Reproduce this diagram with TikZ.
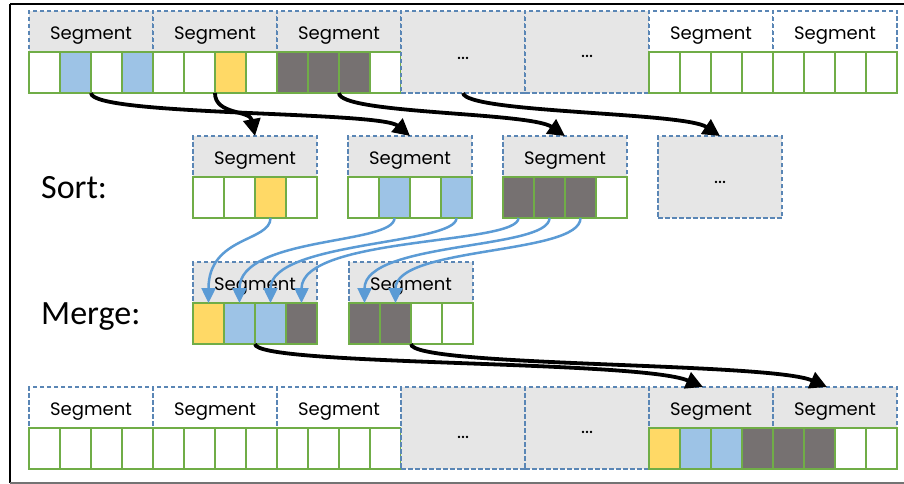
\documentclass[tikz,border=0pt]{standalone}
\usepackage{fontspec}
\setmainfont{Poppins}
\newfontfamily\labelfont{Carlito}
\usetikzlibrary{arrows.meta}

\definecolor{hdrgray}{HTML}{E6E6E6}
\definecolor{cellgreen}{HTML}{70AD47}
\definecolor{cblue}{HTML}{9DC3E6}
\definecolor{cyellow}{HTML}{FFD966}
\definecolor{cdark}{HTML}{767171}
\definecolor{dashblue}{HTML}{5A86B5}
\definecolor{arrowblue}{HTML}{5B9BD5}

\tikzset{
  segframe/.style={draw=dashblue, line width=1.1pt, dash pattern=on 4.5pt off 2.5pt,
    minimum width=124pt, minimum height=82pt, inner sep=0pt, outer sep=0pt},
  seghead/.style={minimum width=124pt, minimum height=40pt, inner sep=0pt, outer sep=0pt},
  segtext/.style={anchor=base, font=\fontsize{18}{20}\selectfont, inner sep=0pt},
  cellbox/.style={draw=cellgreen, line width=2.7pt, minimum width=31pt,
    minimum height=41pt, inner sep=0pt, outer sep=0pt},
  dotstext/.style={font=\fontsize{19}{20}\selectfont, inner sep=0pt},
  steplabel/.style={anchor=base west, font=\labelfont\fontsize{34}{40}\selectfont, inner sep=0pt},
  flow/.style={black, line width=3.8pt, -{Triangle[length=17pt,width=17pt]}},
  mergeflow/.style={arrowblue, line width=2.5pt, -{Triangle[length=15pt,width=14pt]}},
}

% one segment: name, left x, top y, header fill, four cell fills
\newcommand\drawseg[8]{%
  \node[seghead, fill=#4] (#1h) at (#2+62,#3+20) {};
  \node[segframe] (#1) at (#2+62,#3+41) {};
  \node[segtext] (#1t) at (#2+62,#3+28.7) {Segment};
  \node[cellbox, fill=#5] (#1c1) at (#2+15.5,#3+61.5) {};
  \node[cellbox, fill=#6] (#1c2) at (#2+46.5,#3+61.5) {};
  \node[cellbox, fill=#7] (#1c3) at (#2+77.5,#3+61.5) {};
  \node[cellbox, fill=#8] (#1c4) at (#2+108.5,#3+61.5) {};
}
% an elided segment: name, left x, top y, vertical position of the dots
\newcommand\drawgap[4]{%
  \node[segframe, fill=hdrgray] (#1) at (#2+62,#3+41) {};
  \node[dotstext] (#1d) at (#2+62,#3+#4) {...};
}

\begin{document}
\begin{tikzpicture}[x=1pt, y=-1pt]
\useasboundingbox (0,0) rectangle (904,484);

% outer frame
\draw[black, line width=2.6pt] (10,4) -- (906,4);
\draw[black, line width=2pt] (10,4) -- (10,483);
\draw[black!55, line width=1.6pt] (10,483) -- (906,483);

% input array
\drawseg{t1}{29}{11}{hdrgray}{white}{cblue}{white}{cblue}
\drawseg{t2}{153}{11}{hdrgray}{white}{white}{cyellow}{white}
\drawseg{t3}{277}{11}{hdrgray}{cdark}{cdark}{cdark}{white}
\drawgap{t4}{401}{11}{47}
\drawgap{t5}{525}{11}{45}
\drawseg{t6}{649}{11}{white}{white}{white}{white}{white}
\drawseg{t7}{773}{11}{white}{white}{white}{white}{white}

% sorted segments
\node[steplabel] (sortlbl) at (41,198) {Sort:};
\drawseg{s1}{193}{136}{hdrgray}{white}{white}{cyellow}{white}
\drawseg{s2}{348}{136}{hdrgray}{white}{cblue}{white}{cblue}
\drawseg{s3}{503}{136}{hdrgray}{cdark}{cdark}{cdark}{white}
\drawgap{s4}{658}{136}{46}

% merged segments
\node[steplabel] (mergelbl) at (41,324) {Merge:};
\drawseg{m1}{193}{262}{hdrgray}{cyellow}{cblue}{cblue}{cdark}
\drawseg{m2}{349}{262}{hdrgray}{cdark}{cdark}{white}{white}

% output array
\drawseg{b1}{29}{387}{white}{white}{white}{white}{white}
\drawseg{b2}{153}{387}{white}{white}{white}{white}{white}
\drawseg{b3}{277}{387}{white}{white}{white}{white}{white}
\drawgap{b4}{401}{387}{50}
\drawgap{b5}{525}{387}{45}
\drawseg{b6}{649}{387}{hdrgray}{cyellow}{cblue}{cblue}{cdark}
\drawseg{b7}{773}{387}{hdrgray}{cdark}{cdark}{white}{white}

% input -> sort
\draw[flow] (t1.south) .. controls +(0,23) and +(-30,-25) .. (s2.north);
\draw[flow] (t2.south) .. controls +(0,22) and +(-5,-26) .. (s1.north);
\draw[flow] (t3.south) .. controls +(0,21) and +(-35,-24) .. (s3.north);
\draw[flow] (t4.south) .. controls +(3,20) and +(-36,-24) .. (s4.north);

% sort -> merge
\draw[mergeflow] (s1c3.south) .. controls +(0,24) and +(0,-67) .. (m1c1.north);
\draw[mergeflow] (s2c2.south) .. controls +(0,27) and +(0,-67) .. (m1c2.north);
\draw[mergeflow] (s2c4.south) .. controls +(0,27) and +(0,-62) .. (m1c3.north);
\draw[mergeflow] (s3c1.south) .. controls +(0,27) and +(0,-67) .. (m1c4.north);
\draw[mergeflow] (s3c2.south) .. controls +(0,32) and +(0,-62) .. (m2c1.north);
\draw[mergeflow] (s3c3.south) .. controls +(0,37) and +(0,-57) .. (m2c2.north);

% merge -> output
\draw[flow] (m1.south) .. controls +(0,22) and +(-63,-27) .. ([xshift=-8pt]b6.north);
\draw[flow] (m2.south) .. controls +(0,23) and +(-57,-25) .. ([xshift=-8pt]b7.north);
\end{tikzpicture}
\end{document}
